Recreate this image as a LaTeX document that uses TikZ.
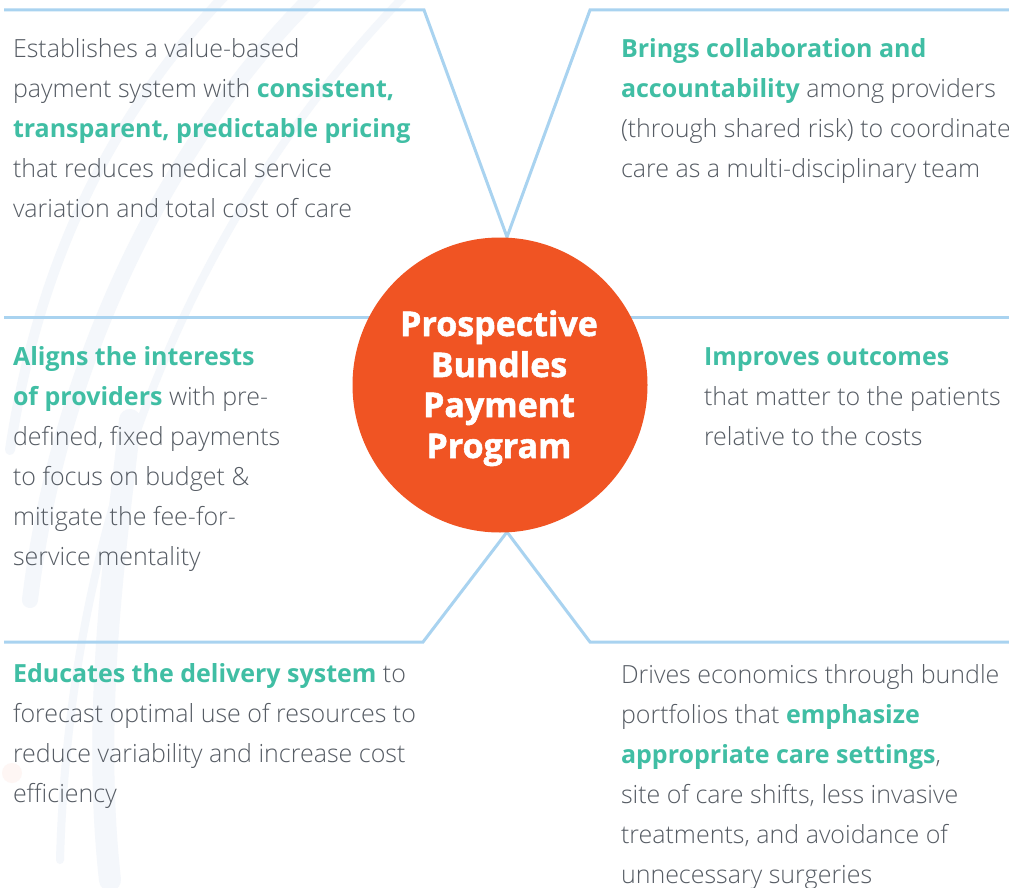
\documentclass[tikz,border=0pt]{standalone}
\usepackage{fontspec}
\IfFontExistsTF{Open Sans Light}{%
  \setmainfont{Open Sans Light}%
}{%
  \setmainfont{Open Sans}%
}
\newfontfamily\boldfam{Open Sans}
\IfFontExistsTF{Open Sans ExtraBold}{%
  \newfontfamily\titlefont{Open Sans ExtraBold}[FakeBold=1.5]%
}{%
  \newfontfamily\titlefont{Open Sans}[UprightFont={* Bold}, FakeBold=1.5]%
}
\definecolor{linecol}{HTML}{A9D3F0}
\definecolor{txtgray}{HTML}{565C64}
\definecolor{teal}{HTML}{40BEA4}
\definecolor{orangec}{HTML}{F05423}
\definecolor{swoosh}{HTML}{F4F7FB}
\newcommand{\hl}[1]{{\boldfam\bfseries\color{teal}#1}}
\newcommand{\blocktext}[1]{\parbox[t]{420pt}{\fontsize{25}{40}\selectfont\raggedright\leavevmode#1}}
\tikzset{
  frame/.style={draw=linecol, line width=3pt, line join=miter},
  blocknode/.style={anchor=base west, inner sep=0pt, outer sep=0pt, text=txtgray},
  hub/.style={circle, fill=orangec, minimum size=295pt, inner sep=0pt},
  hubtext/.style={anchor=base, inner sep=0pt, text=white, font=\titlefont\fontsize{34}{41}\selectfont}
}
\begin{document}
\begin{tikzpicture}[x=1pt, y=-1pt]
\useasboundingbox (0,0) rectangle (1009,888);
\fill[white] (0,0) rectangle (1009,888);
% faint background swooshes
\begin{scope}
\clip (0,0) rectangle (1009,888);
\draw[swoosh, line width=16pt, line cap=round] (30,600) .. controls (60,350) and (180,120) .. (330,-20);
\draw[swoosh, line width=10pt, line cap=round] (10,450) .. controls (40,250) and (120,100) .. (240,-20);
\draw[swoosh, line width=8pt, line cap=round] (60,860) .. controls (70,500) and (200,200) .. (420,-20);
\draw[swoosh, line width=22pt, line cap=round] (110,880) .. controls (90,700) and (120,520) .. (130,420);
\fill[orangec!5] (12,773) circle (10);
\end{scope}
% frame lines
\coordinate (tlA) at (4,10);
\coordinate (tlB) at (424,10);
\coordinate (trA) at (1009,10);
\coordinate (trB) at (590,10);
\coordinate (topv) at (507,237);
\coordinate (mlA) at (4,317);
\coordinate (mlB) at (420,317);
\coordinate (mrA) at (580,317);
\coordinate (mrB) at (1009,317);
\coordinate (botv) at (507,532);
\coordinate (blA) at (4,642);
\coordinate (blB) at (423,642);
\coordinate (brA) at (1009,642);
\coordinate (brB) at (590,642);
\draw[frame] (tlA) -- (tlB) -- (topv) -- (trB) -- (trA);
\draw[frame] (mlA) -- (mlB);
\draw[frame] (mrA) -- (mrB);
\draw[frame] (blA) -- (blB) -- (botv) -- (brB) -- (brA);
% hub
\node[hub] (hub) at (500,385) {};
\node[hubtext] (h1) at (499,336) {Prospective};
\node[hubtext] (h2) at (499,377) {Bundles};
\node[hubtext] (h3) at (499,417) {Payment};
\node[hubtext] (h4) at (499,458) {Program};
% text blocks
\node[blocknode] (tl) at (13,58) {\blocktext{Establishes a value-based\\
payment system with \hl{consistent,}\\
\hl{transparent, predictable pricing}\\
that reduces medical service\\
variation and total cost of care}};
\node[blocknode] (tr) at (621,58) {\blocktext{\hl{Brings collaboration and}\\
\hl{accountability} among providers\\
(through shared risk) to coordinate\\
care as a multi-disciplinary team}};
\node[blocknode] (ml) at (13,365) {\blocktext{\hl{Aligns the interests}\\
\hl{of providers} with pre-\\
defined, fixed payments\\
to focus on budget \&\\
mitigate the fee-for-\\
service mentality}};
\node[blocknode] (mr) at (704,365) {\blocktext{\hl{Improves outcomes}\\
that matter to the patients\\
relative to the costs}};
\node[blocknode] (bl) at (13,682) {\blocktext{\hl{Educates the delivery system} to\\
forecast optimal use of resources to\\
reduce variability and increase cost\\
efficiency}};
\node[blocknode] (br) at (621,683) {\blocktext{Drives economics through bundle\\
portfolios that \hl{emphasize}\\
\hl{appropriate care settings},\\
site of care shifts, less invasive\\
treatments, and avoidance of\\
unnecessary surgeries}};
\end{tikzpicture}
\end{document}
